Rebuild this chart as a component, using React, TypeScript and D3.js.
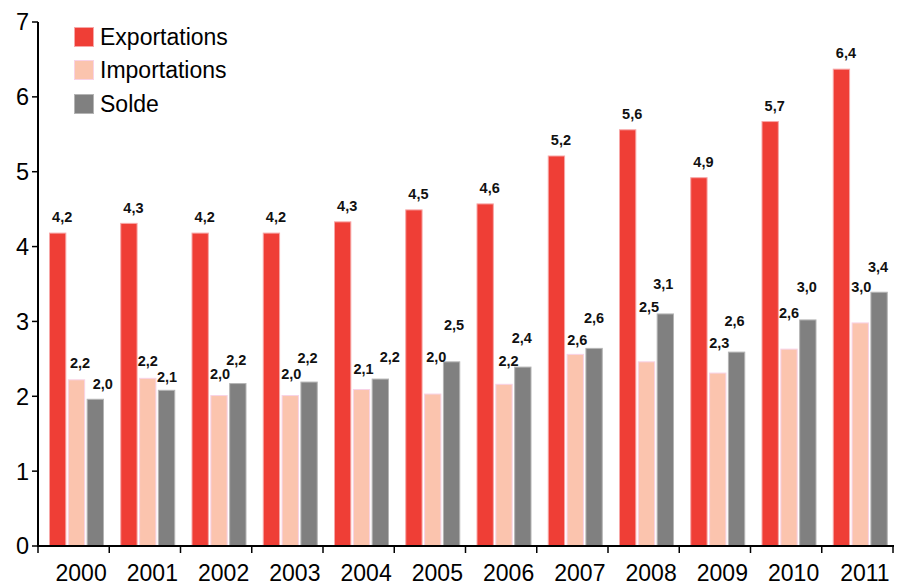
import * as d3 from 'd3';

const years = ['2000', '2001', '2002', '2003', '2004', '2005', '2006', '2007', '2008', '2009', '2010', '2011'];
const exportations = [4.18, 4.31, 4.18, 4.18, 4.33, 4.49, 4.57, 5.21, 5.56, 4.92, 5.67, 6.37];
const importations = [2.22, 2.24, 2.01, 2.01, 2.09, 2.03, 2.16, 2.56, 2.46, 2.31, 2.63, 2.98];
const solde = [1.96, 2.08, 2.17, 2.19, 2.23, 2.46, 2.39, 2.64, 3.1, 2.59, 3.02, 3.39];
const yTicks = [0, 1, 2, 3, 4, 5, 6, 7];

// label nudges (px) — the original labels were hand-placed
const importLift = [17, 18, 22, 22, 21, 37, 24, 15, 55, 30, 36, 36];
const soldeLift = [16, 14, 24, 24, 22, 37, 29, 31, 30, 31, 33, 25];
const importDx = [3.5, 0, 1, 1, 2, 3.5, 4.5, 2, 2.5, 1.5, 0, 1];
const soldeDx = [7.5, 0.5, -1.5, -1.5, 9.5, 2.5, -1, 0, -2, -2, -1, -1];

const W = 904;
const H = 585;
const left = 38;
const right = 893;
const bottom = 546;
const top = 22;
const font = 'Liberation Sans, Arial, Helvetica, sans-serif';

const series = [
    { key: 'Exportations', values: exportations, fill: '#ef3e36', stroke: '#f7a7a7', lift: exportations.map(() => 16), dx: exportations.map(() => 4.5) },
    { key: 'Importations', values: importations, fill: '#fbc4ae', stroke: '#f8d2e6', lift: importLift, dx: importDx },
    { key: 'Solde', values: solde, fill: '#808080', stroke: '#b4b4b4', lift: soldeLift, dx: soldeDx },
];

const fmt = (v: number) => v.toFixed(1).replace('.', ',');

export default function App() {
    const x = d3.scaleBand<string>().domain(years).range([left, right]);
    const inner = d3
        .scaleBand<string>()
        .domain(series.map((s) => s.key))
        .range([11, 66])
        .paddingInner(0.08);
    const y = d3.scaleLinear().domain([0, 7]).range([bottom, top]);
    const bw = inner.bandwidth();
    const boundaries = years.map((yr) => x(yr)!).concat([right]);

    return (
        <svg width={W} height={H} style={{ position: 'absolute', left: 0, top: 0, background: '#fff' }} fontFamily={font}>
            {/* bars */}
            {years.map((yr, i) => (
                <g key={yr} transform={`translate(${x(yr)},0)`}>
                    {series.map((s) => (
                        <rect
                            key={s.key}
                            x={inner(s.key)! + 0.5}
                            y={y(s.values[i])}
                            width={bw - 1}
                            height={bottom - y(s.values[i])}
                            fill={s.fill}
                            stroke={s.stroke}
                            strokeWidth={1}
                        />
                    ))}
                </g>
            ))}

            {/* value labels */}
            {years.map((yr, i) => (
                <g key={'l' + yr}>
                    {series.map((s) => (
                        <text
                            key={s.key}
                            x={x(yr)! + inner(s.key)! + bw / 2 + s.dx[i]}
                            y={y(s.values[i]) - s.lift[i]}
                            dy="0.36em"
                            textAnchor="middle"
                            fontSize={14.5}
                            fontWeight="bold"
                            fill="#111"
                        >
                            {fmt(s.values[i])}
                        </text>
                    ))}
                </g>
            ))}

            {/* y axis */}
            <line x1={left} x2={left} y1={top} y2={bottom + 1} stroke="#000" strokeWidth={2} />
            {yTicks.map((t) => (
                <g key={t}>
                    <line x1={left - 6} x2={left} y1={y(t)} y2={y(t)} stroke="#000" strokeWidth={1.5} />
                    <text x={left - 9} y={y(t)} dy="0.36em" textAnchor="end" fontSize={23.5} fill="#000">
                        {t}
                    </text>
                </g>
            ))}

            {/* x axis */}
            <line x1={left - 1} x2={right + 1} y1={bottom} y2={bottom} stroke="#000" strokeWidth={2} />
            {boundaries.map((b, i) => (
                <line key={i} x1={b} x2={b} y1={bottom} y2={bottom + 7} stroke="#000" strokeWidth={1.5} />
            ))}
            {years.map((yr) => (
                <text key={'x' + yr} x={x(yr)! + x.bandwidth() / 2 + 7.5} y={573} dy="0.36em" textAnchor="middle" fontSize={23} fill="#000">
                    {yr}
                </text>
            ))}

            {/* legend */}
            {series.map((s, i) => {
                const cy = [37, 70, 104][i];
                return (
                    <g key={'lg' + s.key}>
                        <rect x={74.5} y={cy - 9.5} width={19} height={19} fill={s.fill} stroke={s.stroke} strokeWidth={1} />
                        <text x={100} y={cy} dy="0.36em" fontSize={23} fill="#000">
                            {s.key}
                        </text>
                    </g>
                );
            })}
        </svg>
    );
}
